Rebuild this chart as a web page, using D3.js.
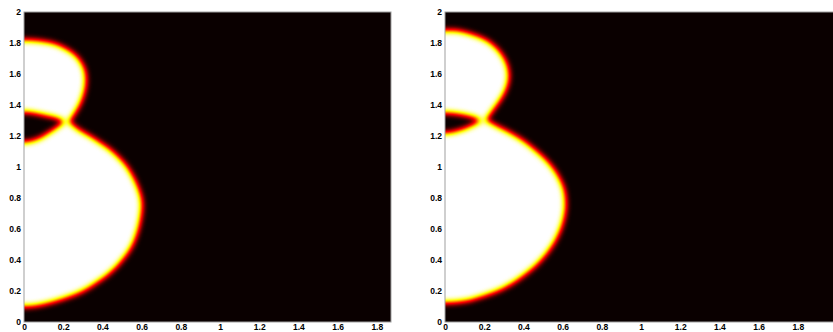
<!DOCTYPE html>
<html>
<head>
<meta charset="utf-8">
<script src="https://cdn.jsdelivr.net/npm/d3@7"></script>
<style>
body { margin: 0; background: #fff; overflow: hidden; }
.tick text { font-family: "Liberation Sans", Arial, sans-serif; font-weight: bold; font-size: 8.5px; fill: #000; }
</style>
</head>
<body>
<div class="chart"></div>
<script>
/* tick labels */
var xTicks = [0, 0.2, 0.4, 0.6, 0.8, 1, 1.2, 1.4, 1.6, 1.8];
var yTicks = [0, 0.2, 0.4, 0.6, 0.8, 1, 1.2, 1.4, 1.6, 1.8, 2];

/* drop outlines (r, z), from the axis round to the axis */
var leftBig = [[0, 0.10], [0.1, 0.115], [0.2, 0.15], [0.3, 0.2], [0.4, 0.28], [0.48, 0.37],
  [0.55, 0.49], [0.59, 0.64], [0.6, 0.78], [0.57, 0.9], [0.52, 1.01], [0.45, 1.1],
  [0.36, 1.18], [0.28, 1.24], [0.22, 1.29], [0.15, 1.24], [0.07, 1.18], [0, 1.16]];
var leftSmall = [[0, 1.355], [0.1, 1.335], [0.18, 1.31], [0.22, 1.29], [0.26, 1.35],
  [0.29, 1.42], [0.31, 1.5], [0.315, 1.57], [0.305, 1.64], [0.27, 1.71], [0.21, 1.765],
  [0.14, 1.8], [0.07, 1.815], [0, 1.82]];

var rightBig = [[0, 0.125], [0.1, 0.135], [0.2, 0.17], [0.3, 0.22], [0.4, 0.3], [0.49, 0.4],
  [0.56, 0.52], [0.6, 0.64], [0.615, 0.76], [0.6, 0.88], [0.54, 1.01], [0.45, 1.12],
  [0.36, 1.2], [0.27, 1.26], [0.2, 1.3], [0.14, 1.27], [0.07, 1.235], [0, 1.22]];
var rightSmall = [[0, 1.35], [0.1, 1.335], [0.16, 1.315], [0.2, 1.3], [0.24, 1.36],
  [0.28, 1.43], [0.31, 1.5], [0.325, 1.58], [0.315, 1.66], [0.28, 1.74], [0.22, 1.81],
  [0.15, 1.85], [0.08, 1.875], [0, 1.88]];

var svg = d3.select(".chart").append("svg")
  .attr("width", 833)
  .attr("height", 332);

/* hot colormap applied to a blurred white-on-black mask */
var defs = svg.append("defs");
var filt = defs.append("filter")
  .attr("id", "hot")
  .attr("color-interpolation-filters", "sRGB");
filt.append("feGaussianBlur").attr("stdDeviation", 3.4);
var ct = filt.append("feComponentTransfer");
ct.append("feFuncR").attr("type", "table").attr("tableValues", "0.04 0.37 0.71 1 1 1 1 1 1");
ct.append("feFuncG").attr("type", "table").attr("tableValues", "0 0 0 0 0.33 0.67 1 1 1");
ct.append("feFuncB").attr("type", "table").attr("tableValues", "0 0 0 0 0 0 0 0.5 1");

var panels = [
  { id: "p1", left: 24, width: 367, xMax: 367 / 196, drops: [leftBig, leftSmall] },
  { id: "p2", left: 445, width: 392, xMax: 2.0, drops: [rightBig, rightSmall] }
];
var plotTop = 12, plotBottom = 322;

panels.forEach(function(p) {
  var x = d3.scaleLinear().domain([0, p.xMax]).range([p.left, p.left + p.width]);
  var y = d3.scaleLinear().domain([0, 2]).range([plotBottom, plotTop]);

  defs.append("clipPath").attr("id", "clip-" + p.id)
    .append("rect")
    .attr("x", p.left).attr("y", plotTop)
    .attr("width", p.width).attr("height", plotBottom - plotTop);

  var g = svg.append("g").attr("clip-path", "url(#clip-" + p.id + ")");
  var field = g.append("g").attr("filter", "url(#hot)");

  field.append("rect")
    .attr("x", p.left - 40).attr("y", plotTop - 40)
    .attr("width", p.width + 80).attr("height", plotBottom - plotTop + 80)
    .attr("fill", "#000");

  var line = d3.line()
    .x(function(d) { return x(d[0]); })
    .y(function(d) { return y(d[1]); })
    .curve(d3.curveCatmullRomClosed.alpha(0.5));

  p.drops.forEach(function(drop) {
    // axisymmetric: mirror the outline across r = 0
    var mirror = drop.slice().reverse()
      .filter(function(d) { return d[0] > 0; })
      .map(function(d) { return [-d[0], d[1]]; });
    field.append("path")
      .attr("d", line(drop.concat(mirror)))
      .attr("fill", "#fff");
  });

  svg.append("rect")
    .attr("x", p.left).attr("y", plotTop)
    .attr("width", p.width).attr("height", plotBottom - plotTop)
    .attr("fill", "none")
    .attr("stroke", "#a0a0a0")
    .attr("stroke-width", 1);

  svg.append("g")
    .attr("transform", "translate(0," + plotBottom + ")")
    .call(d3.axisBottom(x).tickValues(xTicks).tickSize(0).tickPadding(2).tickFormat(function(d) { return d; }))
    .call(function(a) { a.select(".domain").remove(); });

  svg.append("g")
    .attr("transform", "translate(" + p.left + ",0)")
    .call(d3.axisLeft(y).tickValues(yTicks).tickSize(0).tickPadding(3).tickFormat(function(d) { return d; }))
    .call(function(a) { a.select(".domain").remove(); });
});
</script>
</body>
</html>
